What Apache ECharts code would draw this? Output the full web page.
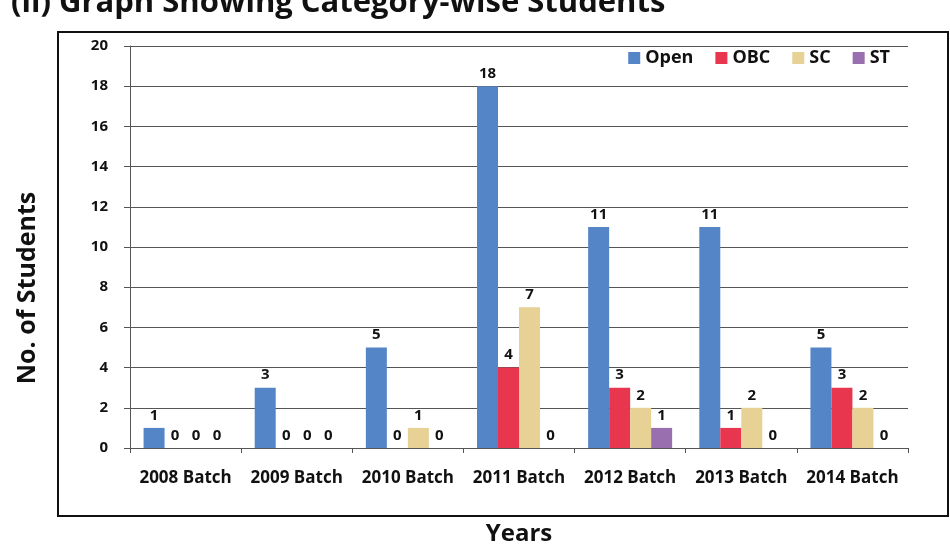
<!DOCTYPE html>
<html>
<head>
<meta charset="utf-8">
<script src="https://cdn.jsdelivr.net/npm/echarts@6/dist/echarts.min.js"></script>
<style>
  html, body { margin: 0; padding: 0; background: #fff; }
  #chart { width: 950px; height: 551px; }
</style>
</head>
<body>
<div id="chart"></div>
<script>
const batches = ['2008 Batch', '2009 Batch', '2010 Batch', '2011 Batch', '2012 Batch', '2013 Batch', '2014 Batch'];
const openVals = [1, 3, 5, 18, 11, 11, 5];
const obcVals = [0, 0, 0, 4, 3, 1, 3];
const scVals = [0, 0, 1, 7, 2, 2, 2];
const stVals = [0, 0, 0, 0, 1, 0, 0];

const font = '"Open Sans", "Noto Sans", sans-serif';

const chart = echarts.init(document.getElementById('chart'));

const labelStyle = {
  show: true,
  position: 'top',
  distance: 5,
  color: '#111',
  fontFamily: font,
  fontWeight: 'bold',
  fontSize: 15
};

function bar(name, data, color) {
  return {
    name: name,
    type: 'bar',
    data: data,
    barWidth: 21,
    barGap: '0%',
    itemStyle: { color: color },
    label: labelStyle
  };
}

chart.setOption({
  animation: false,
  backgroundColor: '#fff',
  title: {
    text: '(ii) Graph Showing Category-wise Students',
    left: 6,
    top: -17,
    textStyle: { fontFamily: font, fontWeight: 'bold', fontSize: 31, color: '#111' }
  },
  graphic: [{
    type: 'rect',
    shape: { x: 58, y: 32, width: 890, height: 484 },
    style: { fill: 'none', stroke: '#111', lineWidth: 2 }
  }, {
    type: 'text',
    x: 28,
    y: 288,
    rotation: Math.PI / 2,
    style: {
      text: 'No. of Students',
      fontFamily: font,
      fontWeight: 'bold',
      fontSize: 25,
      fill: '#111',
      align: 'center',
      verticalAlign: 'middle'
    }
  }],
  legend: {
    top: 44,
    right: 55,
    itemWidth: 12,
    itemHeight: 12,
    itemGap: 22,
    icon: 'rect',
    textStyle: { fontFamily: font, fontWeight: 'bold', fontSize: 18, color: '#111' },
    data: ['Open', 'OBC', 'SC', 'ST']
  },
  grid: { left: 130, right: 42, top: 46, bottom: 95 },
  xAxis: {
    type: 'category',
    data: batches,
    name: 'Years',
    nameLocation: 'middle',
    nameGap: 74,
    nameTextStyle: { fontFamily: font, fontWeight: 'bold', fontSize: 24, color: '#111' },
    axisLine: { lineStyle: { color: '#555' } },
    axisTick: { show: true, length: 5, lineStyle: { color: '#555' } },
    axisLabel: { interval: 0, margin: 22, fontFamily: font, fontWeight: 'bold', fontSize: 17, color: '#111' }
  },
  yAxis: {
    type: 'value',
    min: 0,
    max: 20,
    interval: 2,
    axisLine: { show: true, lineStyle: { color: '#555' } },
    axisTick: { show: true, length: 6, lineStyle: { color: '#555' } },
    axisLabel: { margin: 22, fontFamily: font, fontWeight: 'bold', fontSize: 15, color: '#111' },
    splitLine: { lineStyle: { color: '#555', width: 1 } }
  },
  barCategoryGap: '20%',
  series: [
    bar('Open', openVals, '#5485c6'),
    bar('OBC', obcVals, '#e8364f'),
    bar('SC', scVals, '#e7d194'),
    bar('ST', stVals, '#9a6fb0')
  ]
});
</script>
</body>
</html>
